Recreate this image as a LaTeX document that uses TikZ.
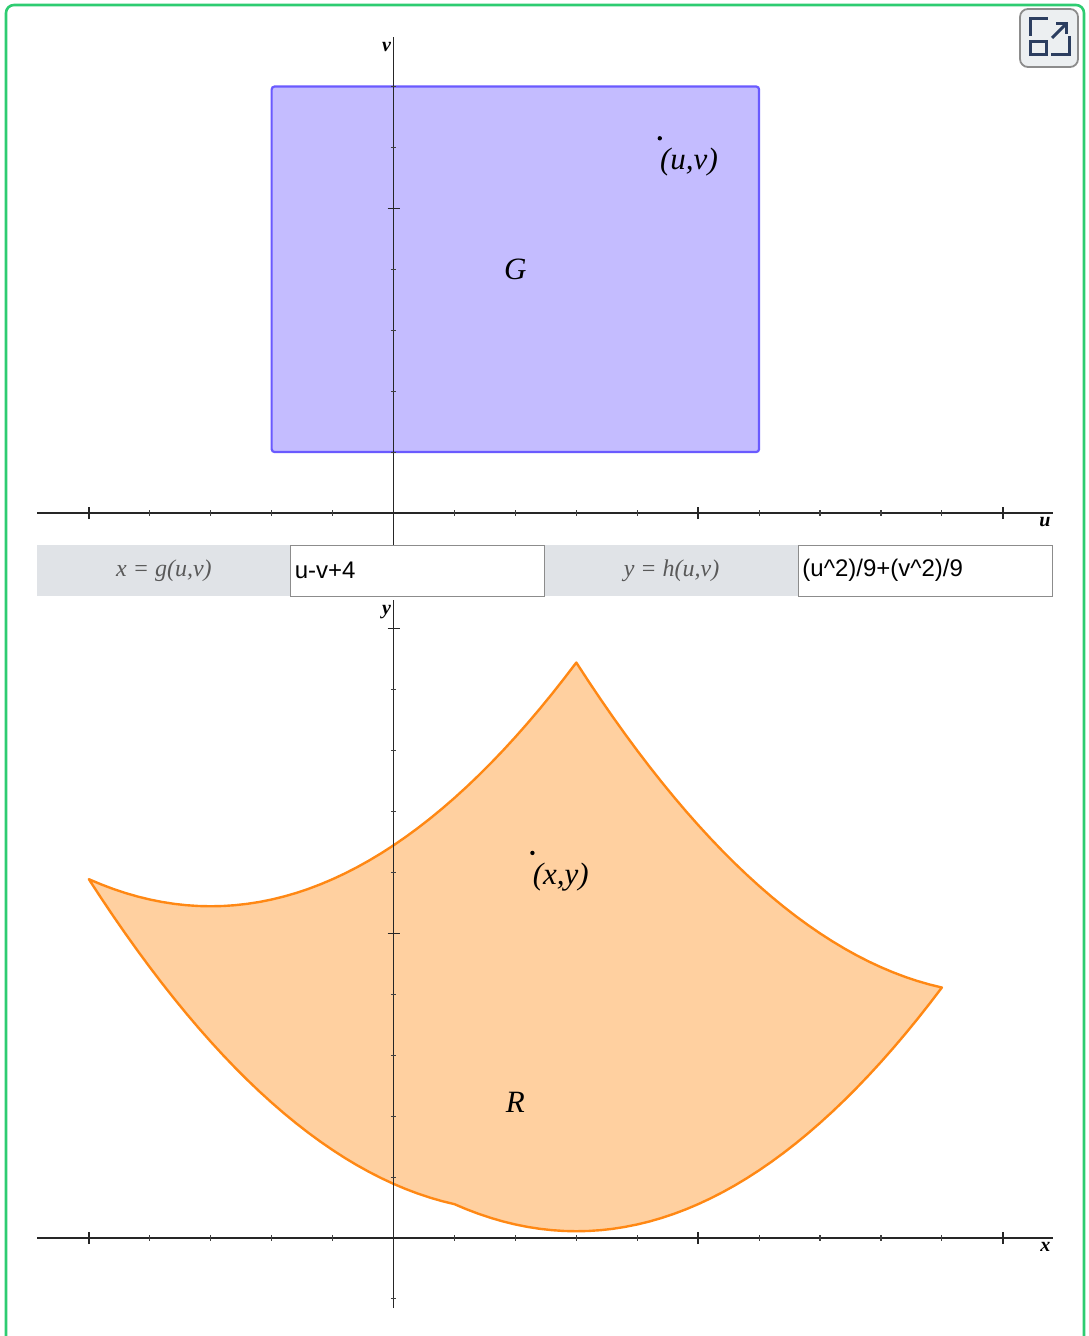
\documentclass[tikz,border=0pt]{standalone}
\usepackage{fontspec}
\setmainfont{Liberation Serif}
\setsansfont{Liberation Sans}
\usetikzlibrary{positioning}
\definecolor{framegreen}{RGB}{46,204,113}
\definecolor{gline}{RGB}{106,90,255}
\definecolor{gfill}{RGB}{196,188,255}
\definecolor{rline}{RGB}{255,136,20}
\definecolor{rfill}{RGB}{255,208,160}
\definecolor{barfill}{RGB}{224,227,231}
\definecolor{iconblue}{RGB}{44,62,96}
\definecolor{iconfill}{RGB}{236,239,241}

\begin{document}
\begin{tikzpicture}[x=0.5pt, y=-0.5pt,
	  axisline/.style={line width=0.7pt, black!85},
	  minortick/.style={line width=0.55pt, black!75},
	  majortick/.style={line width=0.7pt, black!85},
	  axislbl/.style={inner sep=1pt, font=\fontsize{10}{12}\selectfont\bfseries\itshape},
	  gset/.style={draw=gline, fill=gfill, line width=1.1pt, rounded corners=1.5pt},
	  rset/.style={draw=rline, fill=rfill, line width=1.2pt, line join=round},
	  setname/.style={font=\fontsize{15.5}{18}\selectfont\itshape},
	  dotmark/.style={circle, fill=black, inner sep=0pt, minimum size=2.2pt},
	  pointlbl/.style={inner sep=0pt, font=\fontsize{15.5}{18}\selectfont\itshape},
	  fieldcell/.style={fill=barfill, inner sep=0pt, outer sep=0pt, minimum width=126.9pt, minimum height=25.5pt, text=black!65, font=\fontsize{12}{14}\selectfont\itshape},
	  fieldbox/.style={draw=black!45, line width=0.5pt, fill=white, inner xsep=2pt, inner ysep=0pt, outer sep=0pt, text width=122.9pt, minimum height=25.5pt, align=left, font=\sffamily\fontsize{12}{14}\selectfont},
	  iconline/.style={draw=iconblue, line width=1.5pt},
	]
	\useasboundingbox (0,0) rectangle (1088,1336);
	
	% Frame and expand button
	\draw[framegreen, line width=1.3pt, rounded corners=4pt] (6,1336) -- (6,5) -- (1084,5) -- (1084,1336);
	\draw[fill=iconfill, draw=black!45, line width=0.9pt, rounded corners=4pt] (1020,9) rectangle (1078,67);
	\draw[iconline] (1030,36) -- (1030,19) -- (1048,19);
	\draw[iconline] (1069,36) -- (1069,55) -- (1051,55);
	\draw[iconline] (1030,42) rectangle (1046,55);
	\draw[iconline] (1052,38) -- (1066,24);
	\draw[iconline] (1056,24) -- (1066,24) -- (1066,34);
	
	% Plane (u,v) with set G
	\begin{scope}[shift={(393.5,513)}, x=30.465pt, y=30.465pt]
		\draw[gset] (-2,1) rectangle (6,7);
		\node[setname] (gname) at (2,4) {G};
		\coordinate (uleft) at (-5.85,0);
		\coordinate (uright) at (10.82,0);
		\coordinate (vbottom) at (0,-0.53);
		\coordinate (vtop) at (0,7.81);
		\draw[axisline] (uleft) -- (uright);
		\draw[axisline] (vbottom) -- (vtop);
		\foreach \k in {-4,-3,-2,-1,1,2,3,4,6,7,8,9}
			\draw[minortick] (\k,0) ++(0,-1.3pt) -- ++(0,2.6pt);
		\foreach \k in {-5,5,10}
			\draw[majortick] (\k,0) ++(0,-3pt) -- ++(0,6pt);
		\foreach \k in {1,2,3,4,6,7}
			\draw[minortick] (0,\k) ++(-1.3pt,0) -- ++(2.6pt,0);
		\draw[majortick] (0,5) ++(-3pt,0) -- ++(6pt,0);
		\node[axislbl, anchor=north east] (ulbl) at ([yshift=-1pt]uright) {u};
		\node[axislbl, anchor=north east] (vlbl) at ([yshift=-1.5pt]vtop) {v};
		\node[dotmark] (uvdot) at (4.37,6.15) {};
		\node[pointlbl, anchor=north west] (uvlbl) at ([yshift=-4.5pt]uvdot.center) {(u,v)};
	\end{scope}
	
	% Input fields
	\node[fieldcell, anchor=west] (gcell) at (37,570.5) {x = g(u,v)};
	\node[fieldbox, right=0pt of gcell] (gbox) {u-v+4};
	\node[fieldcell, right=0pt of gbox] (hcell) {y = h(u,v)};
	\node[fieldbox, right=0pt of hcell] (hbox) {(u\textasciicircum 2)/9+(v\textasciicircum 2)/9};
	
	% Plane (x,y) with image R
	\begin{scope}[shift={(393.5,1238)}, x=30.465pt, y=30.465pt]
		\filldraw[rset]
			plot[variable=\t, domain=-2:6, samples=41] ({\t+3},{((\t)*(\t)+1)/9})
			-- plot[variable=\t, domain=1:7, samples=31] ({10-\t},{(36+(\t)*(\t))/9})
			-- plot[variable=\t, domain=6:-2, samples=41] ({\t-3},{((\t)*(\t)+49)/9})
			-- plot[variable=\t, domain=7:1, samples=31] ({2-\t},{(4+(\t)*(\t))/9})
			-- cycle;
		\node[setname] (rname) at (2,2.22) {R};
		\coordinate (xleft) at (-5.85,0);
		\coordinate (xright) at (10.82,0);
		\coordinate (ybottom) at (0,-1.15);
		\coordinate (ytop) at (0,10.47);
		\draw[axisline] (xleft) -- (xright);
		\draw[axisline] (ybottom) -- (ytop);
		\foreach \k in {-4,-3,-2,-1,1,2,3,4,6,7,8,9}
			\draw[minortick] (\k,0) ++(0,-1.3pt) -- ++(0,2.6pt);
		\foreach \k in {-5,5,10}
			\draw[majortick] (\k,0) ++(0,-3pt) -- ++(0,6pt);
		\foreach \k in {-1,1,2,3,4,6,7,8,9}
			\draw[minortick] (0,\k) ++(-1.3pt,0) -- ++(2.6pt,0);
		\foreach \k in {5,10}
			\draw[majortick] (0,\k) ++(-3pt,0) -- ++(6pt,0);
		\node[axislbl, anchor=north east] (xlbl) at ([yshift=-1pt]xright) {x};
		\node[axislbl, anchor=north east] (ylbl) at ([yshift=-1.5pt]ytop) {y};
		\node[dotmark] (xydot) at (2.28,6.32) {};
		\node[pointlbl, anchor=north west] (xylbl) at ([yshift=-5pt]xydot.center) {(x,y)};
	\end{scope}
	
\end{tikzpicture}
\end{document}
